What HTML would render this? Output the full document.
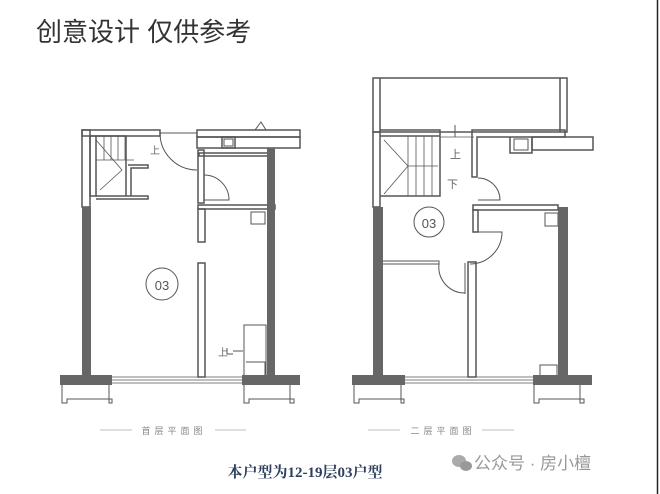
<!DOCTYPE html>
<html><head><meta charset="utf-8"><style>
html,body{margin:0;padding:0;background:#fff;}
body{width:660px;height:494px;position:relative;overflow:hidden;}
svg{position:absolute;left:0;top:0;}
</style></head><body>
<svg width="660" height="494" viewBox="0 0 660 494" xmlns="http://www.w3.org/2000/svg">
<line x1="657.5" y1="0" x2="657.5" y2="494" stroke="#222" stroke-width="1.5"/>
<text x="36" y="41" font-family="'Liberation Sans','Noto Sans CJK SC',sans-serif" font-size="26" fill="#333">创意设计 仅供参考</text>

<g fill="none" stroke="#555" stroke-width="1.5">
<!-- PLAN 1 -->
<rect x="82" y="130" width="8" height="77"/>
<rect x="82" y="130" width="78" height="6"/>
<rect x="90" y="136" width="6" height="60"/>
<path d="M96 136 h30 v60 M96 196 h52 v3 h-52 M128 165 h20 v3 h-17 v28"/>
<path d="M96 160 h38 M104 136 v24 M111 136 v24 M118 136 v24 M125 136 v24 M96 140 l26 30 l-22 20" stroke-width="0.8"/>
<text x="150" y="154" font-size="10" fill="#666" stroke="none" font-family="'Noto Sans CJK SC',sans-serif">上</text>
<path d="M160 133 h37 M160 133 A37 37 0 0 0 197 170" stroke-width="1"/>
<rect x="197" y="130" width="103" height="7"/>
<rect x="197" y="137" width="103" height="11"/>
<rect x="222" y="137" width="13" height="11"/>
<path d="M224 139 h9 v7 h-9z M255 130 l6 -8 l5 8" stroke-width="1"/>
<rect x="198" y="150" width="6" height="53"/>
<rect x="199" y="153" width="69" height="3"/>
<path d="M204 175 A25 25 0 0 1 229 200 h-25" stroke-width="1"/>
<rect x="198" y="205" width="77" height="4"/>
<rect x="198" y="209" width="7" height="33"/>
<rect x="198" y="263" width="7" height="114"/>
<path d="M251 212 h14 v12 h-14z" stroke-width="1"/>
<rect x="244" y="325" width="22" height="52" stroke-width="1"/>
<path d="M246 362 h19 v14 M227 348 v6 h6 M233 351 h10" stroke-width="1"/>
<text x="218" y="356" font-size="10" fill="#666" stroke="none" font-family="'Noto Sans CJK SC',sans-serif">上</text>
<circle cx="162" cy="284" r="16" stroke-width="1"/>
<path d="M112 377 h130 M112 380 h130 M112 383 h130" stroke-width="0.8"/>
<path d="M62 385 v18 h5 v-4 h45 v4 h-3 v-18 M244 385 v18 h5 v-4 h45 v4 h-4 v-18" stroke-width="1"/>

<!-- PLAN 2 -->
<rect x="373" y="78" width="194" height="54"/>
<path d="M380 78 v54 M560 78 v54"/>
<rect x="373" y="132" width="7" height="75"/>
<path d="M380 130 h60 v6 h-60 M380 196 h60 v-3 M440 136 v60"/>
<path d="M384 136 h24 v60 h-24 M408 166 h30 M416 136 v60 M424 136 v60 M432 136 v60 M384 140 l24 26 l-24 28" stroke-width="0.8"/>
<line x1="440" y1="137" x2="474" y2="137" stroke-width="0.8"/>
<path d="M455 125 v12" stroke-width="1"/>
<text x="450" y="158" font-size="11" fill="#666" stroke="none" font-family="'Noto Sans CJK SC',sans-serif">上</text>
<text x="447" y="188" font-size="11" fill="#666" stroke="none" font-family="'Noto Sans CJK SC',sans-serif">下</text>
<path d="M472 130 h93 v7 h-88 v40 h-5z"/>
<path d="M510 137 v16 h22 v-16"/>
<path d="M514 139 h14 v11 h-14z" stroke-width="1"/>
<rect x="532" y="137" width="61" height="13"/>
<path d="M478 178 A22 22 0 0 1 500 200 h-22" stroke-width="1"/>
<rect x="473" y="205" width="85" height="5"/>
<rect x="473" y="210" width="5" height="22"/>
<path d="M478 232 h24 A32 32 0 0 1 470 264" stroke-width="1"/>
<path d="M383 261 h56 v3 h-56 M439 264 A26 26 0 0 0 465 293 M465 294 v-31" stroke-width="1"/>
<rect x="468" y="262" width="8" height="115"/>
<path d="M545 213 h13 v13 h-13z" stroke-width="1"/>
<circle cx="429" cy="222" r="15" stroke-width="1"/>
<path d="M405 377 h128 M405 380 h128 M405 383 h128" stroke-width="0.8"/>
<rect x="540" y="365" width="17" height="11" stroke-width="1"/>
<path d="M354 385 v18 h5 v-4 h45 v4 h-3 v-18 M534 385 v18 h5 v-4 h45 v4 h-4 v-18" stroke-width="1"/>
</g>
<text x="162" y="290" font-size="13" fill="#555" text-anchor="middle" font-family="'Liberation Sans',sans-serif">03</text>
<text x="429" y="228" font-size="13" fill="#555" text-anchor="middle" font-family="'Liberation Sans',sans-serif">03</text>

<g fill="#666">
<rect x="82" y="207" width="9" height="172"/>
<rect x="267" y="148" width="8" height="230"/>
<rect x="60" y="375" width="52" height="10"/>
<rect x="242" y="375" width="58" height="10"/>
<rect x="373" y="207" width="10" height="172"/>
<rect x="558" y="207" width="10" height="172"/>
<rect x="352" y="375" width="53" height="10"/>
<rect x="533" y="375" width="59" height="10"/>
</g>

<g stroke="#aaa" stroke-width="0.8">
<line x1="100" y1="430" x2="132" y2="430"/><line x1="215" y1="430" x2="246" y2="430"/>
<line x1="368" y1="430" x2="400" y2="430"/><line x1="482" y1="430" x2="514" y2="430"/>
</g>
<text x="174" y="434" font-size="9" fill="#888" text-anchor="middle" letter-spacing="4" font-family="'Noto Sans CJK SC',sans-serif">首层平面图</text>
<text x="443" y="434" font-size="9" fill="#888" text-anchor="middle" letter-spacing="4" font-family="'Noto Sans CJK SC',sans-serif">二层平面图</text>

<text x="305" y="477" font-size="15" font-weight="bold" fill="#2d3f5e" text-anchor="middle" font-family="'Liberation Serif','Noto Serif CJK SC',serif">本户型为12-19层03户型</text>

<g fill="#aaa"><ellipse cx="459" cy="461" rx="7" ry="6"/><ellipse cx="466" cy="466" rx="6" ry="5" fill="#999"/></g>
<text x="474" y="469" font-size="17" fill="#999" font-family="'Liberation Sans','Noto Sans CJK SC',sans-serif">公众号 · 房小檀</text>
</svg>
</body></html>
